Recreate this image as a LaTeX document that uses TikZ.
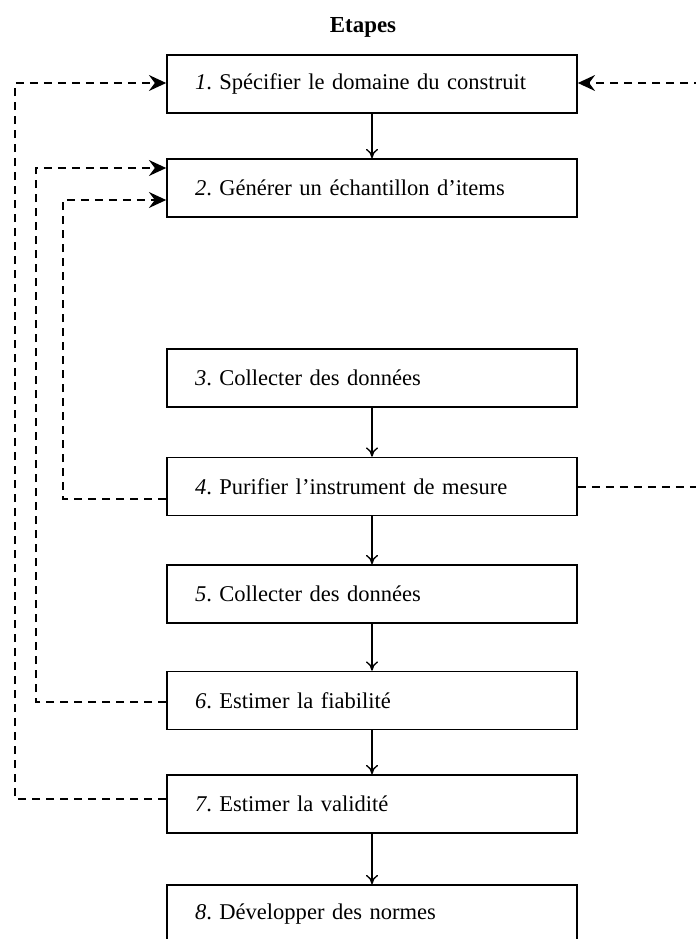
\documentclass[tikz,border=0pt]{standalone}
\usepackage{fontspec}
\setmainfont{Liberation Serif}
\usetikzlibrary{arrows.meta}
\pgfdeclarelayer{edgelayer}
\pgfdeclarelayer{nodelayer}
\pgfsetlayers{edgelayer,nodelayer,main}
\tikzstyle{heading}=[font=\bfseries\fontsize{17.2}{20}\selectfont]
\tikzstyle{step_box}=[rectangle,fill=white,draw=black,line width=1.2pt,minimum width=307.5pt,minimum height=43.5pt,text width=265.5pt,inner xsep=21pt,align=left,font=\fontsize{16.9}{20}\selectfont\frenchspacing]
\tikzstyle{flow}=[-{To[length=7pt,width=9pt]},draw=black,line width=1pt]
\tikzstyle{feedback}=[-{Stealth[length=13pt,width=12pt,inset=4.5pt]},draw=black,line width=1.2pt,dash pattern=on 6pt off 4.5pt]

\begin{document}
\begin{tikzpicture}[x=0.75pt,y=-0.75pt]
	\useasboundingbox (0,0) rectangle (696,939);
	\begin{pgfonlayer}{nodelayer}
		\node [style=heading] (0) at (363, 27) {Etapes};
		\node [style={step_box}] (1) at (372, 84) {\textit{1}. Spécifier le domaine du construit};
		\node [style={step_box}] (2) at (372, 188) {\textit{2}. Générer un échantillon d’items};
		\node [style={step_box}] (3) at (372, 378) {\textit{3}. Collecter des données};
		\node [style={step_box}] (4) at (372, 486.5) {\textit{4}. Purifier l’instrument de mesure};
		\node [style={step_box}] (5) at (372, 594) {\textit{5}. Collecter des données};
		\node [style={step_box}] (6) at (372, 700.5) {\textit{6}. Estimer la fiabilité};
		\node [style={step_box}] (7) at (372, 804) {\textit{7}. Estimer la validité};
		\node [style={step_box}] (8) at (372, 914) {\textit{8}. Développer des normes};
		\coordinate (9) at (15, 83);
		\coordinate (10) at (36, 168);
		\coordinate (11) at (63, 200);
		\coordinate (12) at (760, 487);
	\end{pgfonlayer}
	\begin{pgfonlayer}{edgelayer}
		\draw [style=flow] (1) to (2);
		\draw [style=flow] (3) to (4);
		\draw [style=flow] (4) to (5);
		\draw [style=flow] (5) to (6);
		\draw [style=flow] (6) to (7);
		\draw [style=flow] (7) to (8);
		\draw [style=feedback] ([yshift=3.75pt]7.west) -| (9) -- (9 -| 1.west);
		\draw [style=feedback] ([yshift=-1.1pt]6.west) -| (10) -- (10 -| 2.west);
		\draw [style=feedback] ([yshift=-9.4pt]4.west) -| (11) -- (11 -| 2.west);
		\draw [style=feedback] (12 -| 4.east) -- (12) |- (9 -| 1.east);
	\end{pgfonlayer}
\end{tikzpicture}
\end{document}
